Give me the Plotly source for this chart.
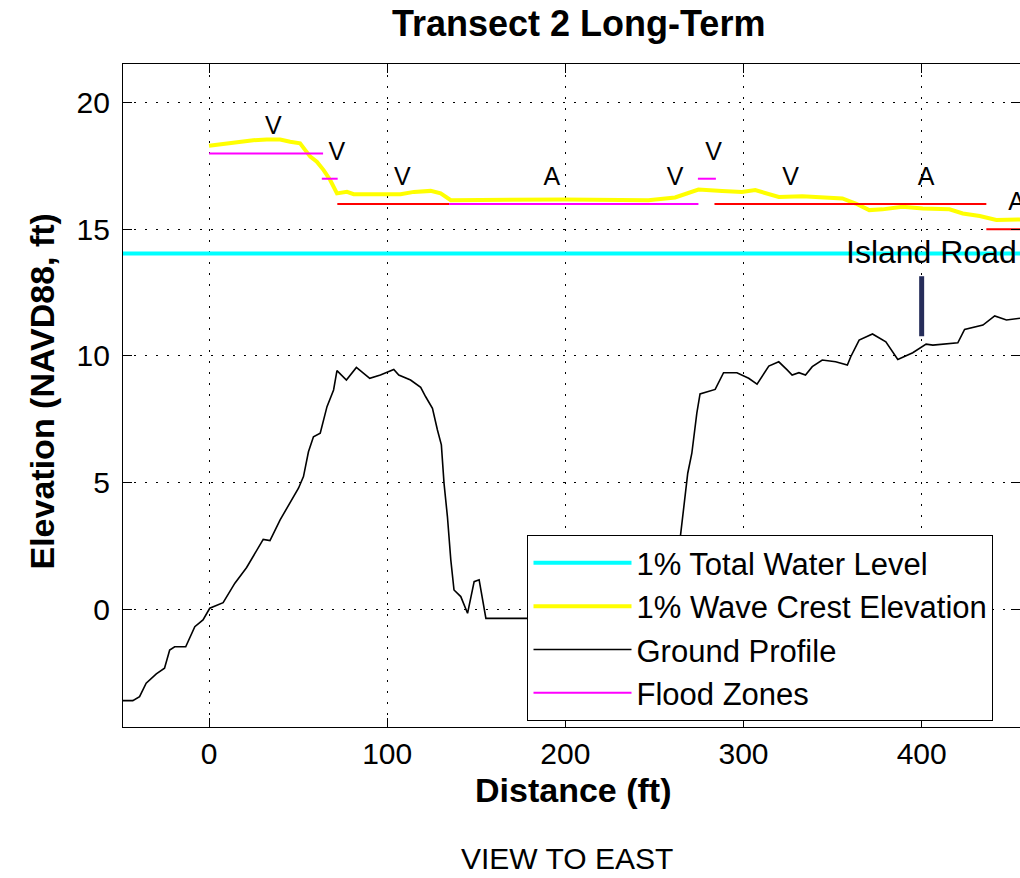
import plotly.graph_objects as go

# ---------------- data ----------------
ground_x = [-48.3, -42.8, -39, -35.3, -29.6, -25, -22.1, -19.3, -13.1, -8, -3.4, 0.4, 7.9, 14.5,
            21.1, 26.7, 30.4, 34.2, 39.9, 50.2, 53, 55.8, 58.6, 62.4, 66.2, 69.9, 71.8, 77.1,
            82.7, 90.2, 96.2, 103.7, 106.5, 113.1, 118.8, 121.6, 125.4, 128.2, 130.4, 131.9,
            133.8, 135.7, 137.5, 141.3, 145.1, 148.8, 151.6, 155.4, 163.9, 200, 240, 258,
            263.9, 265.3, 267.2, 268.7, 271, 272.8, 273.8, 275.6, 280.4, 284.1, 288.8, 296.3,
            302.9, 307.6, 314.2, 319.8, 324.5, 327.3, 331.1, 334.8, 338.6, 344.2, 351.7, 358.3,
            360.2, 364.9, 372.4, 379.9, 386.6, 395, 402.5, 406.3, 420.3, 424.1, 434.4, 441,
            447.6, 455.2]
ground_y = [-3.61, -3.61, -3.45, -2.92, -2.55, -2.33, -1.61, -1.48, -1.48, -0.69, -0.42, 0.04,
            0.26, 1.03, 1.65, 2.34, 2.76, 2.71, 3.53, 4.78, 5.24, 6.22, 6.81, 6.95, 8.0, 8.66,
            9.42, 9.05, 9.55, 9.12, 9.25, 9.47, 9.25, 9.05, 8.76, 8.39, 7.93, 7.08, 6.49, 4.97,
            3.66, 1.95, 0.76, 0.5, -0.16, 1.09, 1.16, -0.36, -0.36, -0.36, -0.36, -0.36,
            2.47, 3.26, 4.45, 5.37, 6.16, 7.21, 7.74, 8.5, 8.59, 8.68, 9.34, 9.34,
            9.12, 8.89, 9.6, 9.77, 9.45, 9.25, 9.34, 9.25, 9.58, 9.84, 9.77, 9.64,
            9.97, 10.63, 10.87, 10.56, 9.86, 10.13, 10.47, 10.43, 10.52, 11.05, 11.22, 11.58,
            11.42, 11.49]

crest_x = [0, 9.8, 13.5, 24.8, 32.4, 39.9, 45.5, 51.1, 54, 56.8, 60.5, 64.3, 68, 71.8, 77.4,
           81.2, 96.2, 107.5, 115, 124.4, 130, 135.7, 199.5, 246.6, 261.6, 274.7, 288, 299.1,
           306.6, 319.8, 333, 355.5, 363, 370.6, 378, 389.3, 400.6, 415.6, 423.1, 432.6,
           441.9, 455.2]
crest_y = [18.3, 18.4, 18.42, 18.52, 18.55, 18.55, 18.46, 18.4, 18.13, 17.87, 17.67, 17.34,
           16.95, 16.42, 16.48, 16.39, 16.39, 16.39, 16.48, 16.52, 16.42, 16.15, 16.18, 16.15,
           16.26, 16.57, 16.52, 16.48, 16.55, 16.28, 16.31, 16.22, 16.02, 15.76, 15.79, 15.89,
           15.82, 15.79, 15.63, 15.53, 15.37, 15.39]

twl_x = [-48.3, 455.2]
twl_y = [14.05, 14.05]

# flood zone segments: start, end, elevation
zone_mag_start = [0, 63.3, 134.7, 274.4]
zone_mag_end = [64, 72.2, 274.7, 284.5]
zone_mag_elev = [18, 17, 16, 17]
zone_red_start = [72, 283.7, 436.3]
zone_red_end = [134.7, 436.3, 455.2]
zone_red_elev = [16, 16, 15]

zone_label_x = [36.1, 71.8, 108.5, 192.4, 261.6, 283.2, 326.4, 402.5, 453.3]
zone_label_y = [19, 18, 17, 17, 17, 18, 17, 17, 16]
zone_label_text = ["V", "V", "V", "A", "V", "V", "V", "A", "A"]

road_x = [400, 400]
road_y = [10.78, 13.15]
road_label = "Island Road"
road_label_x = 405.7
road_label_y = 14.1

x_ticks = [0, 100, 200, 300, 400]
y_ticks = [0, 5, 10, 15, 20]
x_range = [-48.3, 455.2]
y_range = [-4.65, 21.53]


def segments(starts, ends, elevs):
    xs, ys = [], []
    for s, e, z in zip(starts, ends, elevs):
        xs += [s, e, None]
        ys += [z, z, None]
    return xs, ys


FONT = "Liberation Sans, Arial, Helvetica, sans-serif"

fig = go.Figure()

mx, my = segments(zone_mag_start, zone_mag_end, zone_mag_elev)
rx, ry = segments(zone_red_start, zone_red_end, zone_red_elev)

fig.add_trace(go.Scatter(x=twl_x, y=twl_y, mode="lines", name="1% Total Water Level",
                         line=dict(color="#00ffff", width=4)))
fig.add_trace(go.Scatter(x=crest_x, y=crest_y, mode="lines", name="1% Wave Crest Elevation",
                         line=dict(color="#ffff00", width=4)))
fig.add_trace(go.Scatter(x=ground_x, y=ground_y, mode="lines", name="Ground Profile",
                         line=dict(color="#000000", width=1.6)))
fig.add_trace(go.Scatter(x=rx, y=ry, mode="lines", showlegend=False,
                         line=dict(color="#ff0000", width=2)))
fig.add_trace(go.Scatter(x=mx, y=my, mode="lines", name="Flood Zones",
                         line=dict(color="#ff00ff", width=2)))
fig.add_trace(go.Scatter(x=zone_label_x, y=zone_label_y, mode="text", text=zone_label_text,
                         textposition="middle center", showlegend=False,
                         textfont=dict(family=FONT, size=25, color="#000000")))
fig.add_trace(go.Scatter(x=road_x, y=road_y, mode="lines", showlegend=False,
                         line=dict(color="#262d5a", width=5)))

fig.add_annotation(x=road_label_x, y=road_label_y, text=road_label, showarrow=False,
                   xanchor="center", yanchor="middle",
                   font=dict(family=FONT, size=32, color="#000000"))

# plot area (page pixels): left 123, right 1020, top 64, bottom 727
PW, PH = 897.0, 663.0
fig.add_annotation(x=(578 - 123) / PW, y=(727 - 24) / PH, xref="paper", yref="paper",
                   text="<b>Transect 2 Long-Term</b>", showarrow=False,
                   xanchor="center", yanchor="middle",
                   font=dict(family=FONT, size=36, color="#000000"))
fig.add_annotation(x=(573 - 123) / PW, y=(727 - 790) / PH, xref="paper", yref="paper",
                   text="<b>Distance (ft)</b>", showarrow=False,
                   xanchor="center", yanchor="middle",
                   font=dict(family=FONT, size=34, color="#000000"))
fig.add_annotation(x=(41 - 123) / PW, y=(727 - 391.5) / PH, xref="paper", yref="paper",
                   text="<b>Elevation (NAVD88, ft)</b>", showarrow=False, textangle=-90,
                   xanchor="center", yanchor="middle",
                   font=dict(family=FONT, size=34, color="#000000"))
fig.add_annotation(x=(567 - 123) / PW, y=(727 - 858) / PH, xref="paper", yref="paper",
                   text="VIEW TO EAST", showarrow=False,
                   xanchor="center", yanchor="middle",
                   font=dict(family=FONT, size=30, color="#000000"))

axis_common = dict(showline=True, linecolor="#000000", linewidth=1.2, mirror="ticks",
                   ticks="inside", ticklen=9, tickwidth=1.2, tickcolor="#000000",
                   showgrid=True, gridcolor="#000000", gridwidth=1.3, griddash="1.5px,9.5px",
                   zeroline=False, tickfont=dict(family=FONT, size=30, color="#000000"))

fig.update_xaxes(range=x_range, tickvals=x_ticks, ticklabelstandoff=0, **axis_common)
fig.update_yaxes(range=y_range, tickvals=y_ticks, ticklabelstandoff=6, **axis_common)

fig.update_layout(
    width=1020, height=878,
    margin=dict(l=123, r=0, t=64, b=151, pad=0),
    paper_bgcolor="#ffffff", plot_bgcolor="#ffffff",
    font=dict(family=FONT, color="#000000"),
    legend=dict(x=(527.3 - 123) / PW, y=(727 - 721) / PH, xanchor="left", yanchor="bottom",
                bgcolor="#ffffff", bordercolor="#000000", borderwidth=1.2,
                font=dict(family=FONT, size=31, color="#000000"), itemwidth=98,
                tracegroupgap=0),
    showlegend=True,
)

# remove the default 8px page margin so the figure fills the 1020x878 window exactly
fig.write_html(
    "out.html",
    config={"displayModeBar": False},
    post_script="document.body.style.margin='0px';document.body.style.overflow='hidden';",
)
